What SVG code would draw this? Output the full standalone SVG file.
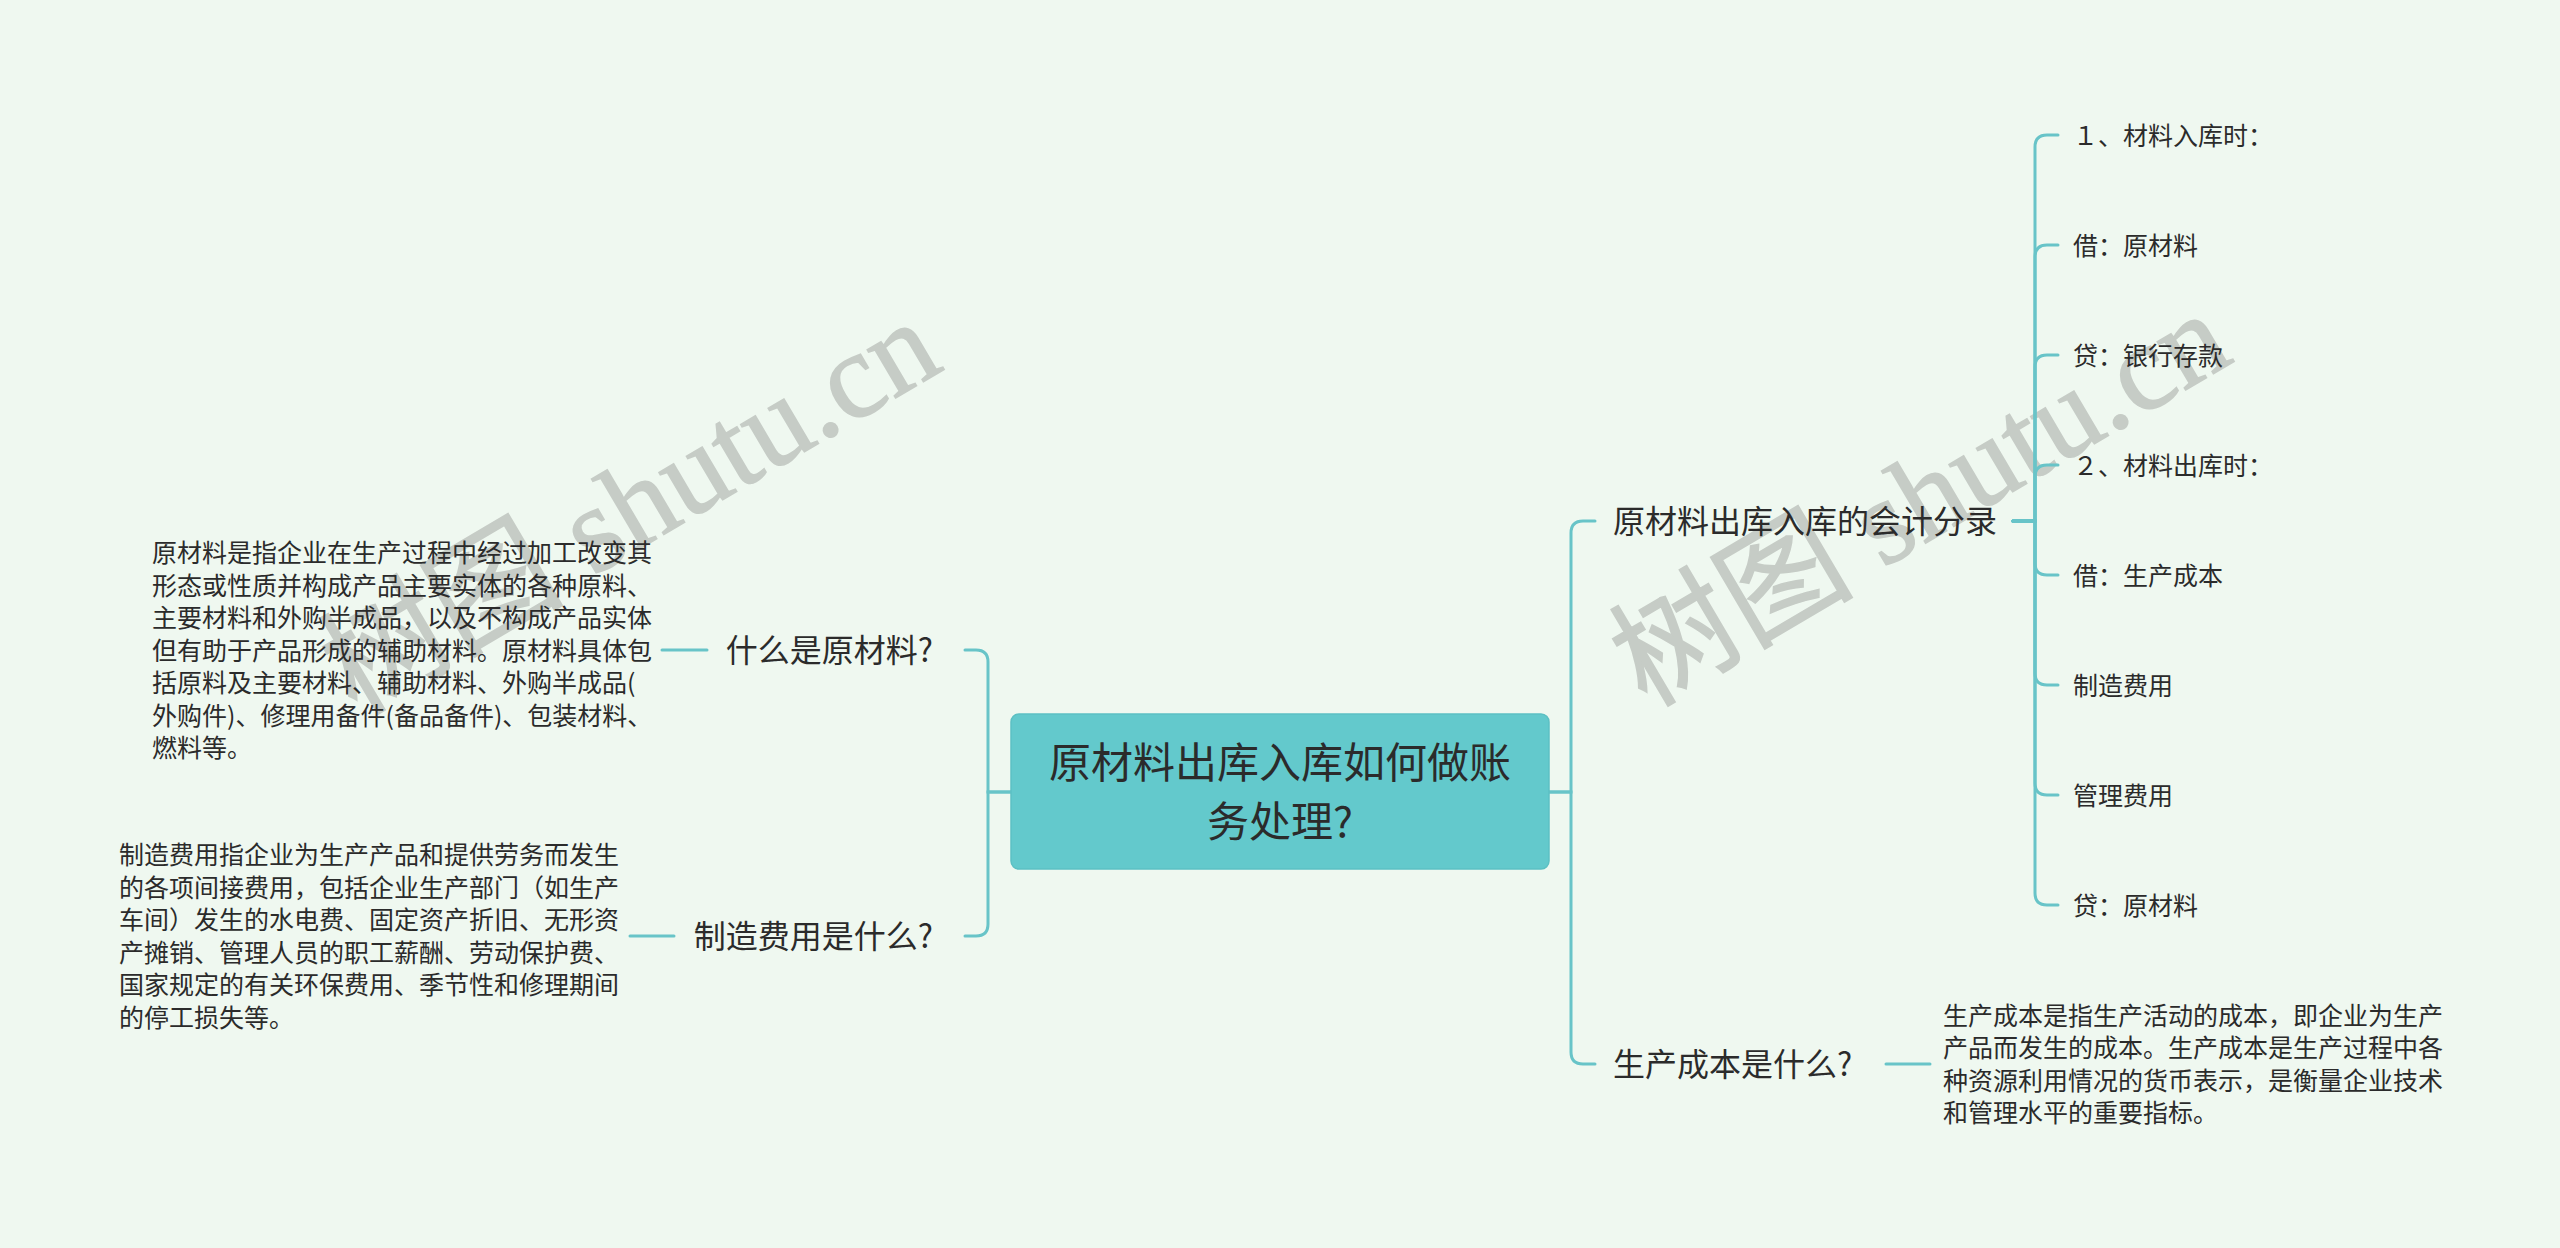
<svg xmlns="http://www.w3.org/2000/svg" width="2560" height="1248" viewBox="0 0 2560 1248">
<style>
.bg{fill:#eff8f0}
.wm{font-family:"Liberation Serif","Noto Sans CJK SC",serif;font-size:122px;fill:#c6ccc6;stroke:#c6ccc6;stroke-width:1.5}
.t{font-family:"Noto Sans CJK SC","Noto Sans",sans-serif;fill:#2b2b2b}
.root{font-size:42px}
.l1{font-size:32px}
.leaf{font-size:25px}
.desc{font-size:25px}
.box{fill:#63c9cc;stroke:#5cc0c3;stroke-width:1.5}
.link{fill:none;stroke:#68c4c8;stroke-width:3;stroke-linecap:round}
</style>
<rect class="bg" x="0" y="0" width="2560" height="1248"/>
<g id="watermarks">
<text class="wm" x="356" y="716" transform="rotate(-30.5 356 716)">树图 shutu.cn</text>
<text class="wm" x="1646" y="708" transform="rotate(-30.5 1646 708)">树图 shutu.cn</text>
</g>
<g id="connectors">
<path class="link" d="M1011,792 H988 V662 Q988,650 976,650 H965"/>
<path class="link" d="M1011,792 H988 V924 Q988,936 976,936 H965"/>
<path class="link" d="M1549,792 H1571 V533 Q1571,521 1583,521 H1595"/>
<path class="link" d="M1549,792 H1571 V1052 Q1571,1064 1583,1064 H1595"/>
<path class="link" d="M2013,521 H2035 V147 Q2035,135 2047,135 H2058"/>
<path class="link" d="M2013,521 H2035 V257 Q2035,245 2047,245 H2058"/>
<path class="link" d="M2013,521 H2035 V367 Q2035,355 2047,355 H2058"/>
<path class="link" d="M2013,521 H2035 V477 Q2035,465 2047,465 H2058"/>
<path class="link" d="M2013,521 H2035 V563 Q2035,575 2047,575 H2058"/>
<path class="link" d="M2013,521 H2035 V673 Q2035,685 2047,685 H2058"/>
<path class="link" d="M2013,521 H2035 V783 Q2035,795 2047,795 H2058"/>
<path class="link" d="M2013,521 H2035 V893 Q2035,905 2047,905 H2058"/>
<path class="link" d="M707,650 H662"/>
<path class="link" d="M674,936 H630"/>
<path class="link" d="M1886,1064 H1930"/>
</g>
<g id="root">
<rect class="box" x="1011" y="714" width="538" height="155" rx="8" ry="8"/>
<text class="t root" text-anchor="middle"><tspan x="1280" y="778">原材料出库入库如何做账</tspan><tspan x="1280" y="837">务处理?</tspan></text>
</g>
<g id="n-what-raw">
<text class="t l1" x="933" y="662" text-anchor="end">什么是原材料?</text>
</g>
<g id="n-what-raw-desc">
<text class="t desc">
<tspan x="152" y="562">原材料是指企业在生产过程中经过加工改变其</tspan>
<tspan x="152" y="594.5">形态或性质并构成产品主要实体的各种原料、</tspan>
<tspan x="152" y="627">主要材料和外购半成品，以及不构成产品实体</tspan>
<tspan x="152" y="659.5">但有助于产品形成的辅助材料。原材料具体包</tspan>
<tspan x="152" y="692">括原料及主要材料、辅助材料、外购半成品(</tspan>
<tspan x="152" y="724.5">外购件)、修理用备件(备品备件)、包装材料、</tspan>
<tspan x="152" y="757">燃料等。</tspan>
</text>
</g>
<g id="n-what-mfg">
<text class="t l1" x="933" y="948" text-anchor="end">制造费用是什么?</text>
</g>
<g id="n-what-mfg-desc">
<text class="t desc">
<tspan x="119" y="864">制造费用指企业为生产产品和提供劳务而发生</tspan>
<tspan x="119" y="897">的各项间接费用，包括企业生产部门（如生产</tspan>
<tspan x="119" y="929">车间）发生的水电费、固定资产折旧、无形资</tspan>
<tspan x="119" y="962">产摊销、管理人员的职工薪酬、劳动保护费、</tspan>
<tspan x="119" y="994">国家规定的有关环保费用、季节性和修理期间</tspan>
<tspan x="119" y="1027">的停工损失等。</tspan>
</text>
</g>
<g id="n-entries">
<text class="t l1" x="1613" y="533">原材料出库入库的会计分录</text>
</g>
<g id="n-leaf1"><text class="t leaf" x="2073" y="144.5">１、材料入库时：</text></g>
<g id="n-leaf2"><text class="t leaf" x="2073" y="254.5">借：原材料</text></g>
<g id="n-leaf3"><text class="t leaf" x="2073" y="364.5">贷：银行存款</text></g>
<g id="n-leaf4"><text class="t leaf" x="2073" y="474.5">２、材料出库时：</text></g>
<g id="n-leaf5"><text class="t leaf" x="2073" y="584.5">借：生产成本</text></g>
<g id="n-leaf6"><text class="t leaf" x="2073" y="694.5">制造费用</text></g>
<g id="n-leaf7"><text class="t leaf" x="2073" y="804.5">管理费用</text></g>
<g id="n-leaf8"><text class="t leaf" x="2073" y="914.5">贷：原材料</text></g>
<g id="n-cost">
<text class="t l1" x="1613" y="1076">生产成本是什么?</text>
</g>
<g id="n-cost-desc">
<text class="t desc">
<tspan x="1943" y="1025">生产成本是指生产活动的成本，即企业为生产</tspan>
<tspan x="1943" y="1057">产品而发生的成本。生产成本是生产过程中各</tspan>
<tspan x="1943" y="1090">种资源利用情况的货币表示，是衡量企业技术</tspan>
<tspan x="1943" y="1122">和管理水平的重要指标。</tspan>
</text>
</g>
</svg>
